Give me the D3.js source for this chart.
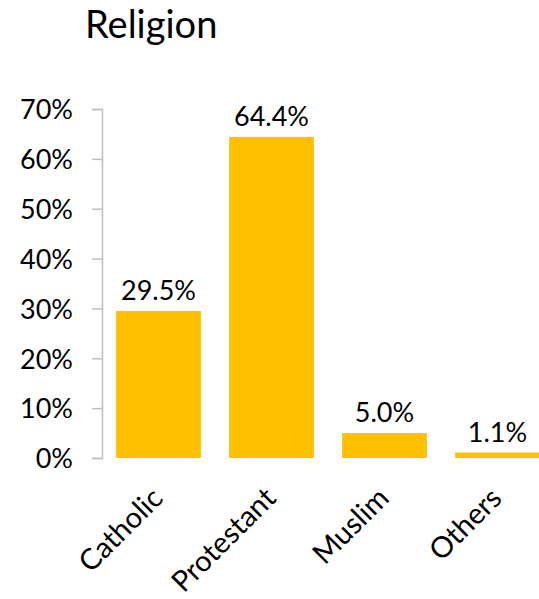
<!DOCTYPE html>
<html><head><meta charset="utf-8">
<script src="https://cdn.jsdelivr.net/npm/d3@7"></script>
<style>body{margin:0;background:#fff;} text{font-family:"Lato","Open Sans",sans-serif;fill:#000;}</style>
</head><body>
<svg id="c" width="539" height="599"></svg>
<script>
const categories = ["Catholic","Protestant","Muslim","Others"];
const values = [29.5,64.4,5.0,1.1];
const valueLabels = ["29.5%","64.4%","5.0%","1.1%"];
const yTicks = [0,10,20,30,40,50,60,70];
const title = "Religion";

const svg = d3.select("#c");
const x = d3.scaleBand().domain(categories).range([102,554]).paddingInner(0.25).paddingOuter(0.125);
const y = d3.scaleLinear().domain([0,70]).range([458,109]);

svg.append("text").attr("x",85).attr("y",38).attr("font-size",38).text(title);

const ya = svg.append("g").attr("transform","translate(102,0)")
  .call(d3.axisLeft(y).tickValues(yTicks).tickSize(10).tickPadding(19).tickFormat(d=>d+"%"));
ya.select(".domain").attr("stroke","#bfbfbf").attr("stroke-width",1.5);
ya.selectAll(".tick line").attr("stroke","#bfbfbf").attr("stroke-width",1.5);
ya.selectAll(".tick text").attr("font-size",27).attr("font-family","Lato, sans-serif").attr("fill","#000").attr("dy","0.36em");

const data = categories.map((c,i)=>({c,v:values[i],l:valueLabels[i]}));
svg.selectAll("rect.bar").data(data).join("rect").attr("class","bar")
  .attr("x",d=>x(d.c)).attr("width",x.bandwidth())
  .attr("y",d=>y(d.v)).attr("height",d=>y(0)-y(d.v)).attr("fill","#FFC000");

svg.selectAll("text.val").data(data).join("text").attr("class","val")
  .attr("x",d=>x(d.c)+x.bandwidth()/2).attr("y",d=>y(d.v)-11)
  .attr("text-anchor","middle").attr("font-size",27).text(d=>d.l);

svg.selectAll("text.cat").data(data).join("text").attr("class","cat")
  .attr("text-anchor","end").attr("font-size",29)
  .attr("transform",d=>`translate(${x(d.c)+x.bandwidth()/2+6},${500}) rotate(-45)`)
  .text(d=>d.c);
</script>
</body></html>
